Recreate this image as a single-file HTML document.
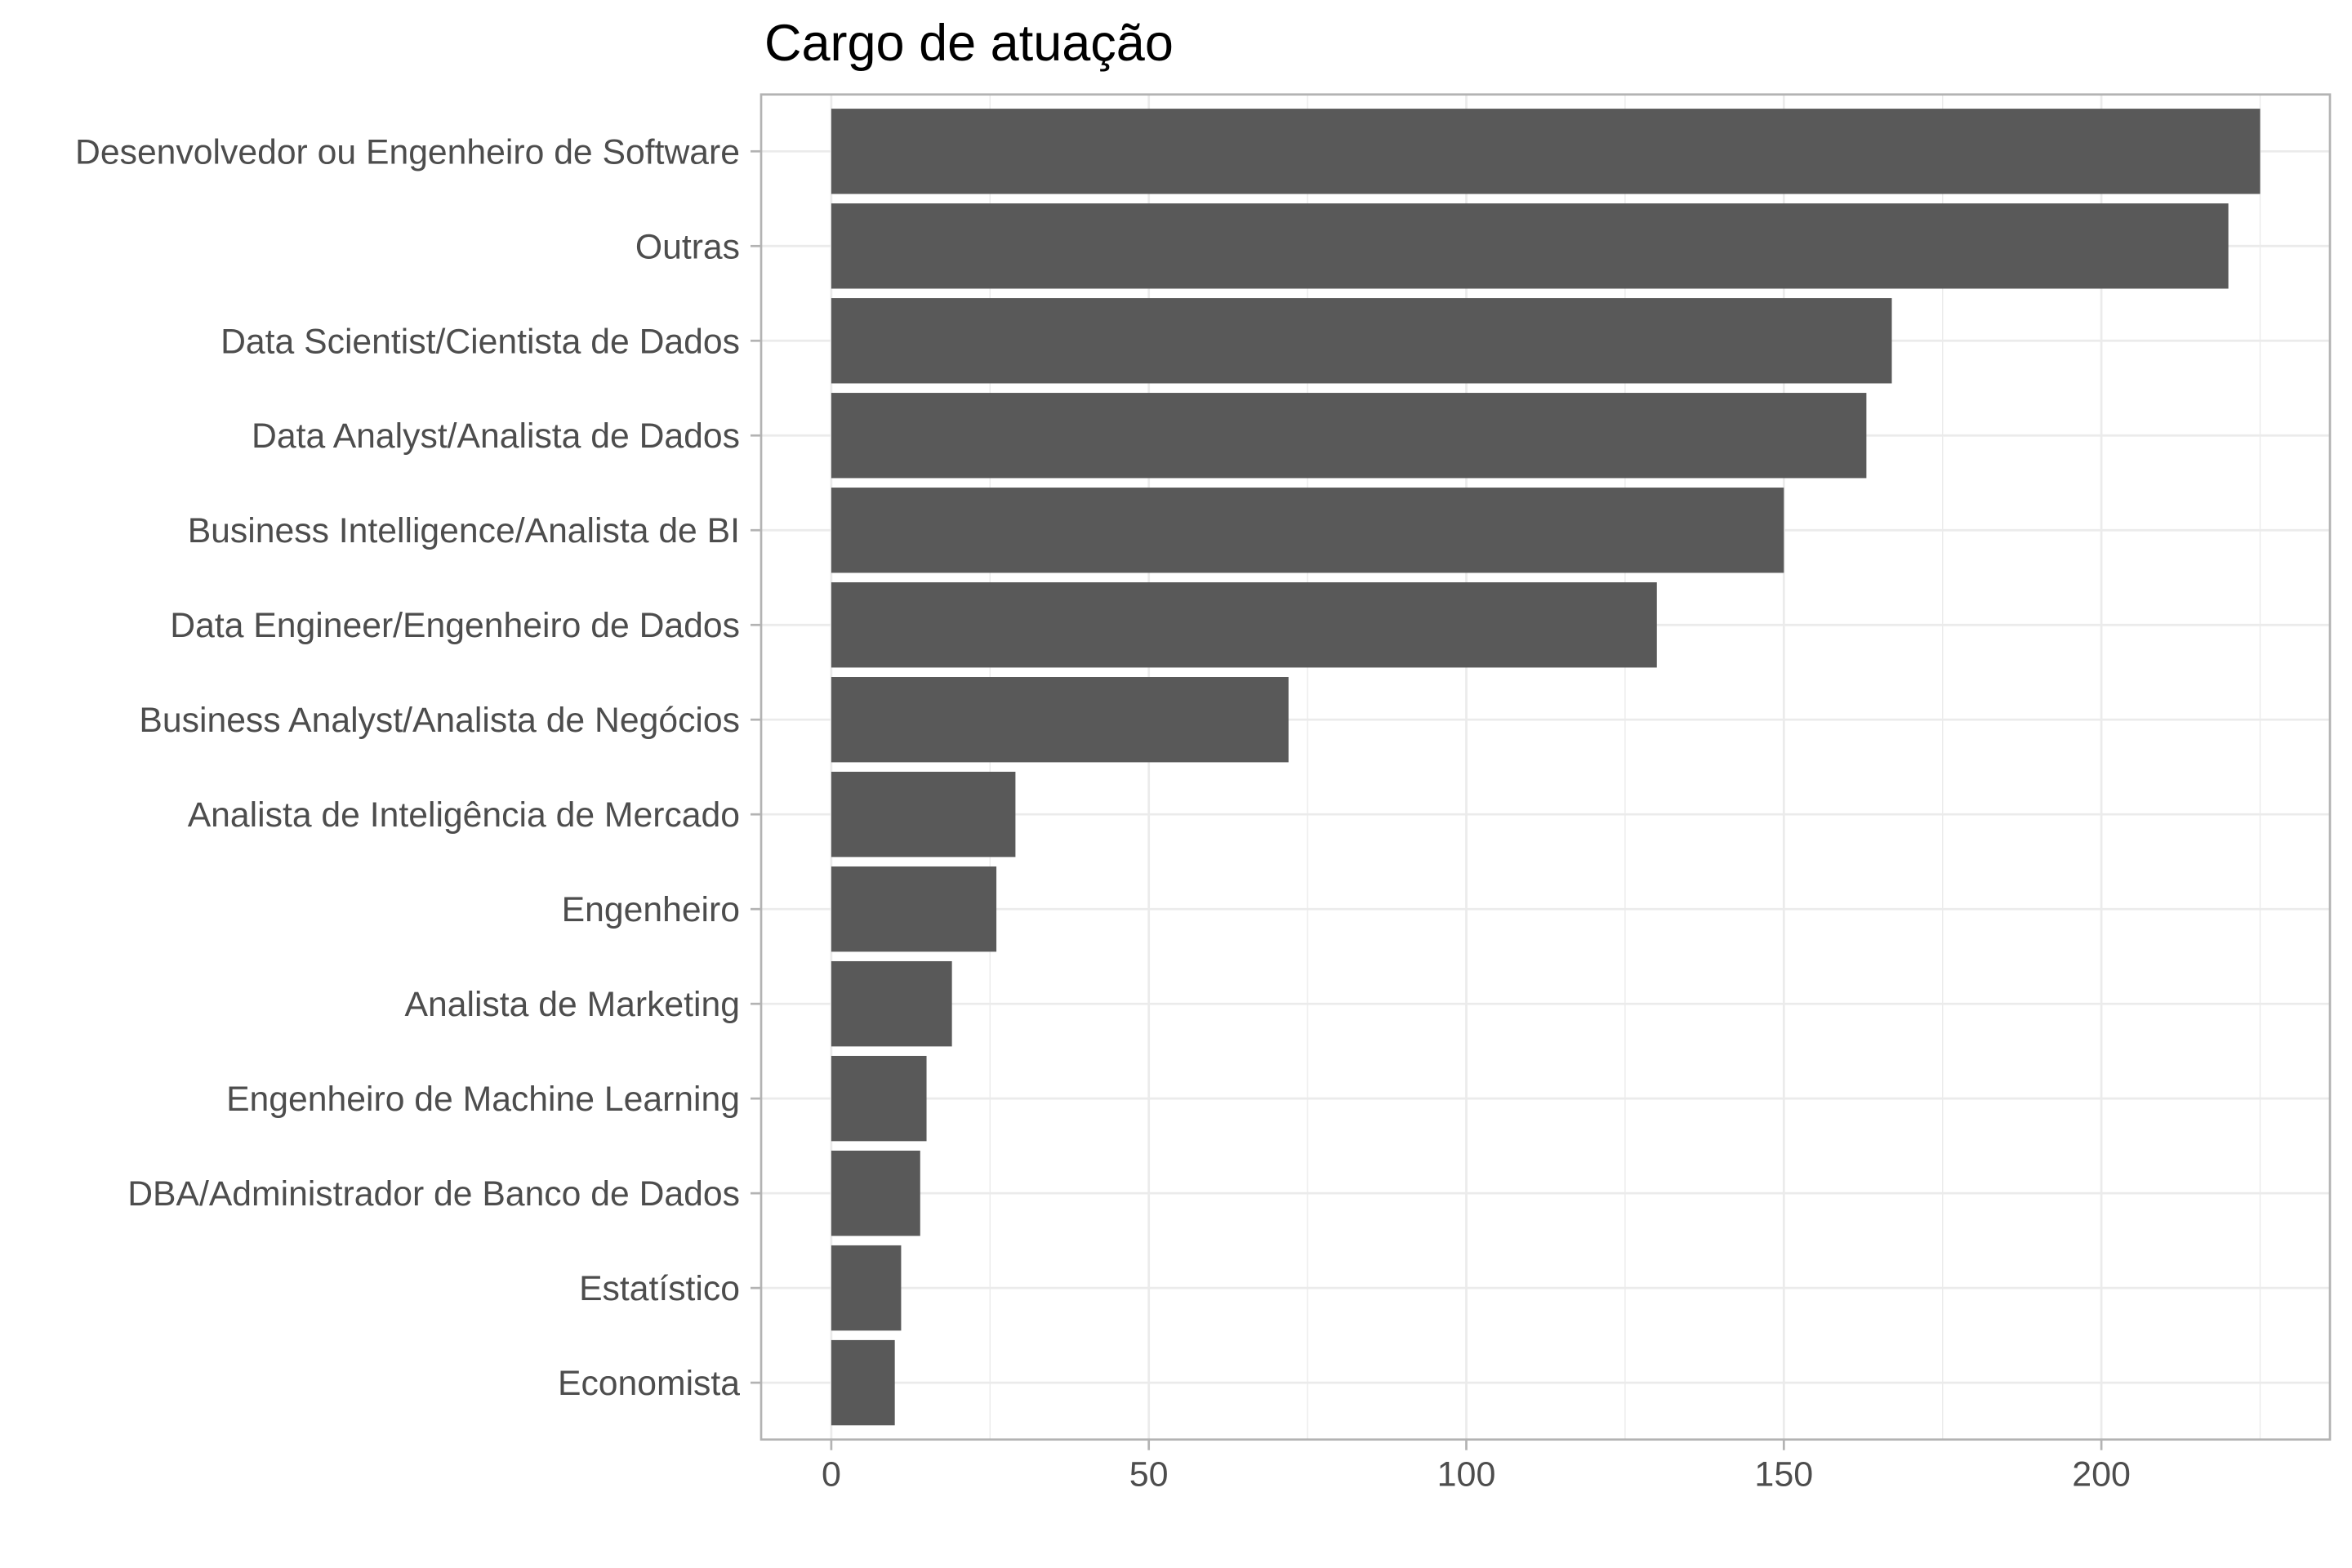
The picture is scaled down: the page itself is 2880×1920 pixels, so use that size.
<!DOCTYPE html>
<html><head><meta charset="utf-8"><style>body{margin:0;background:#fff}svg{display:block}</style></head>
<body>
<svg id="chart" width="2880" height="1920" xmlns="http://www.w3.org/2000/svg" font-family="Liberation Sans, sans-serif"></svg>
<script>
const categories = ["Desenvolvedor ou Engenheiro de Software","Outras","Data Scientist/Cientista de Dados","Data Analyst/Analista de Dados","Business Intelligence/Analista de BI","Data Engineer/Engenheiro de Dados","Business Analyst/Analista de Negócios","Analista de Inteligência de Mercado","Engenheiro","Analista de Marketing","Engenheiro de Machine Learning","DBA/Administrador de Banco de Dados","Estatístico","Economista"];
const values = [225,220,167,163,150,130,72,29,26,19,15,14,11,10];
const xTicks = [0,50,100,150,200];
const xMinor = [25,75,125,175,225];

const svg = document.getElementById('chart');
const NS = 'http://www.w3.org/2000/svg';
const P = {l:932, t:115.7, r:2853, b:1762.7};
const x0 = 1017.9, pxPerUnit = 7.776;
const xs = v => x0 + v*pxPerUnit;
const n = categories.length;
const band = (P.b - P.t)/(n - 1 + 1.2);
const yc = i => P.t + (0.6 + i)*band;
function add(tag, attrs, parent){const e=document.createElementNS(NS,tag);for(const k in attrs)e.setAttribute(k,attrs[k]);(parent||svg).appendChild(e);return e;}

const title = add('text',{x:936,y:74,'font-size':63,fill:'#000'});


title.textContent='Cargo de atuação';

xMinor.forEach(v=>{const l=add('line',{x1:xs(v),x2:xs(v),y1:P.t,y2:P.b,stroke:'#ebebeb','stroke-width':1.4});

});
xTicks.forEach(v=>{const l=add('line',{x1:xs(v),x2:xs(v),y1:P.t,y2:P.b,stroke:'#ebebeb','stroke-width':2.7});

});
categories.forEach((c,i)=>{const l=add('line',{x1:P.l,x2:P.r,y1:yc(i),y2:yc(i),stroke:'#ebebeb','stroke-width':2.7});

});

categories.forEach((c,i)=>{
  const h = band*0.9;
  const r = add('rect',{x:xs(0),y:yc(i)-h/2,width:xs(values[i])-xs(0),height:h,fill:'#595959'});
  
  
  const tk = add('line',{x1:P.l-13,x2:P.l,y1:yc(i),y2:yc(i),stroke:'#b3b3b3','stroke-width':2.7});
  
  
  const t = add('text',{x:P.l-26,y:yc(i)+15,'font-size':42.7,fill:'#4d4d4d','text-anchor':'end'});
  
  
  t.textContent=c;
});

const border = add('rect',{x:P.l,y:P.t,width:P.r-P.l,height:P.b-P.t,fill:'none',stroke:'#b3b3b3','stroke-width':2.7});



xTicks.forEach(v=>{
  const tk = add('line',{x1:xs(v),x2:xs(v),y1:P.b,y2:P.b+13,stroke:'#b3b3b3','stroke-width':2.7});
  
  
  const t = add('text',{x:xs(v),y:P.b+57,'font-size':43,fill:'#4d4d4d','text-anchor':'middle'});
  
  
  t.textContent=v;
});
</script>
</body></html>
